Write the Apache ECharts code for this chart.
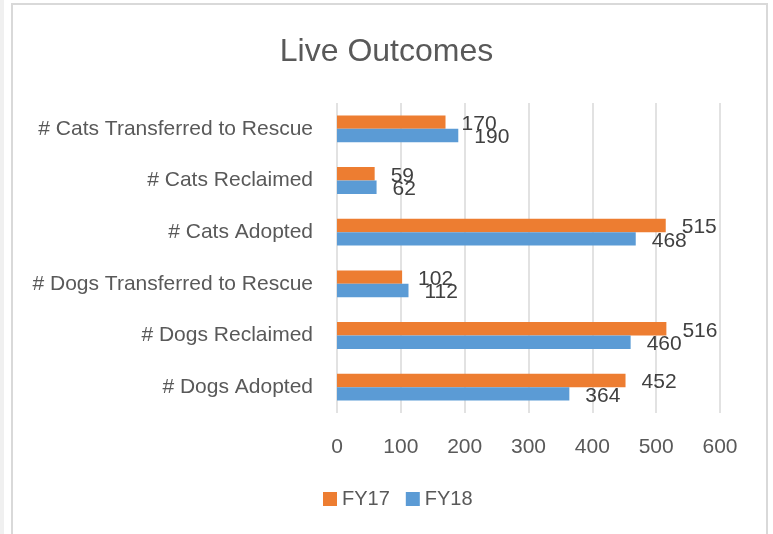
<!DOCTYPE html>
<html>
<head>
<meta charset="utf-8">
<script src="https://cdn.jsdelivr.net/npm/echarts@6/dist/echarts.min.js"></script>
<style>
  html, body { margin: 0; padding: 0; background: #fff; }
  #main { width: 773px; height: 534px; }
</style>
</head>
<body>
<div id="main"></div>
<script>
var categories = ['# Dogs Adopted', '# Dogs Reclaimed', '# Dogs Transferred to Rescue',
                  '# Cats Adopted', '# Cats Reclaimed', '# Cats Transferred to Rescue'];
var fy17 = [452, 516, 102, 515, 59, 170];
var fy18 = [364, 460, 112, 468, 62, 190];
var seriesNames = ['FY17', 'FY18'];

var chart = echarts.init(document.getElementById('main'));
var font = 'Liberation Sans';

var labelStyle = {
    show: true,
    position: 'right',
    distance: 16,
    offset: [0, 2],
    color: '#404040',
    fontFamily: font,
    fontSize: 21
};

var option = {
    animation: false,
    backgroundColor: '#fff',
    graphic: [
        { type: 'rect', shape: { x: 0, y: 0, width: 4, height: 534 }, style: { fill: '#f0f0f0' }, silent: true },
        { type: 'rect', shape: { x: 12, y: 4, width: 755, height: 540 },
          style: { fill: 'none', stroke: '#d9d9d9', lineWidth: 2 }, silent: true }
    ],
    title: {
        text: 'Live Outcomes',
        left: 'center',
        top: 31,
        textStyle: { color: '#595959', fontFamily: font, fontSize: 32, fontWeight: 'normal' }
    },
    legend: {
        data: seriesNames,
        bottom: 20,
        left: 318,
        itemWidth: 14,
        itemHeight: 14,
        itemGap: 16,
        icon: 'rect',
        textStyle: { color: '#595959', fontFamily: font, fontSize: 20 }
    },
    grid: { left: 337, right: 53, top: 103, bottom: 121, containLabel: false },
    xAxis: {
        type: 'value',
        min: 0,
        max: 600,
        interval: 100,
        axisLine: { show: false },
        axisTick: { show: false },
        axisLabel: { color: '#595959', fontFamily: font, fontSize: 21, margin: 24 },
        splitLine: { lineStyle: { color: '#d9d9d9', width: 1.5 } }
    },
    yAxis: {
        type: 'category',
        data: categories,
        axisLine: { show: false },
        axisTick: { show: false },
        axisLabel: { color: '#595959', fontFamily: font, fontSize: 21, margin: 24 }
    },
    series: [
        {
            name: 'FY17', type: 'bar', data: fy17,
            barGap: 0, barCategoryGap: '48%',
            itemStyle: { color: '#ED7D31' },
            label: labelStyle
        },
        {
            name: 'FY18', type: 'bar', data: fy18,
            barGap: 0, barCategoryGap: '48%',
            itemStyle: { color: '#5B9BD5' },
            label: labelStyle
        }
    ]
};
chart.setOption(option);
</script>
</body>
</html>
